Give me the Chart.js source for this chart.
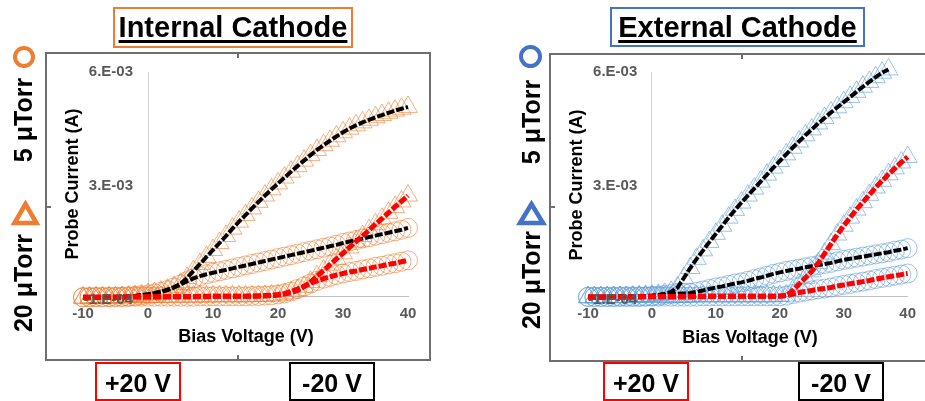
<!DOCTYPE html>
<html><head><meta charset="utf-8">
<script src="https://cdn.jsdelivr.net/npm/chart.js@4/dist/chart.umd.min.js"></script>
<style>
body{margin:0;background:#fff;}
#wrap{position:relative;width:925px;height:401px;overflow:hidden;font-family:"Liberation Sans",Arial,sans-serif;background:#fff;color:#000;}
.frame{position:absolute;border:2px solid #6e6e6e;box-sizing:border-box;}
.tk{position:absolute;background:#6e6e6e;}
.title{position:absolute;box-sizing:border-box;border:2px solid;font-weight:bold;font-size:29px;text-align:center;line-height:36px;text-decoration:underline;text-decoration-thickness:2.5px;text-underline-offset:3px;white-space:nowrap;}
.rot{position:absolute;font-weight:bold;white-space:nowrap;transform:translate(-50%,-50%) rotate(-90deg);}
.ctr{position:absolute;font-weight:bold;white-space:nowrap;transform:translate(-50%,-50%);}
.vbox{position:absolute;box-sizing:border-box;border:2px solid;font-weight:bold;font-size:25px;display:flex;align-items:center;justify-content:center;padding-top:3px;}
canvas{position:absolute;top:0;}
</style></head>
<body><div id="wrap">
<div class="frame" style="left:45px;top:52px;width:386px;height:309px;"></div>
<div class="tk" style="left:47px;top:206px;width:4px;height:2px;"></div>
<div class="tk" style="left:237px;top:54px;width:2px;height:4px;"></div>
<div class="tk" style="left:237px;top:355px;width:2px;height:4px;"></div>
<div class="frame" style="left:549px;top:53px;width:400px;height:309px;"></div>
<div class="tk" style="left:551px;top:206px;width:4px;height:2px;"></div>
<div class="tk" style="left:741px;top:55px;width:2px;height:4px;"></div>
<div class="tk" style="left:741px;top:356px;width:2px;height:4px;"></div>

<canvas id="cL" width="460" height="401" style="left:0;width:460px;height:401px;"></canvas>
<canvas id="cR" width="465" height="401" style="left:460px;width:465px;height:401px;"></canvas>

<div class="title" style="left:113px;top:7px;width:240px;height:41px;border-color:#ED7D31;">Internal Cathode</div>
<div class="title" style="left:610px;top:7px;width:255px;height:40px;border-color:#4472C4;">External Cathode</div>

<div class="rot" style="left:23px;top:120px;font-size:25px;">5 μTorr</div>
<div class="rot" style="left:23px;top:283px;font-size:25px;">20 μTorr</div>
<div class="rot" style="left:531px;top:122px;font-size:25px;">5 μTorr</div>
<div class="rot" style="left:531px;top:280px;font-size:25px;">20 μTorr</div>

<div style="position:absolute;left:13px;top:46px;width:22px;height:22px;box-sizing:border-box;border:4px solid #ED7D31;border-radius:50%;"></div>
<div style="position:absolute;left:519px;top:45px;width:23px;height:23px;box-sizing:border-box;border:4px solid #4472C4;border-radius:50%;"></div>
<svg style="position:absolute;left:0;top:190px;" width="50" height="45"><polygon points="25.5,14 14.5,33 36.5,33" fill="none" stroke="#ED7D31" stroke-width="4.5"/></svg>
<svg style="position:absolute;left:505px;top:190px;" width="50" height="45"><polygon points="26.5,14 15,33 38,33" fill="none" stroke="#4472C4" stroke-width="4.5"/></svg>

<div class="rot" style="left:72px;top:184px;font-size:18px;">Probe Current (A)</div>
<div class="rot" style="left:576px;top:185px;font-size:18px;">Probe Current (A)</div>
<div class="ctr" style="left:246px;top:336px;font-size:18px;">Bias Voltage (V)</div>
<div class="ctr" style="left:750px;top:337px;font-size:18px;">Bias Voltage (V)</div>

<div class="vbox" style="left:95px;top:362px;width:86px;height:39px;border-color:#FF0000;">+20 V</div>
<div class="vbox" style="left:289px;top:362px;width:86px;height:39px;border-color:#000;">-20 V</div>
<div class="vbox" style="left:603px;top:362px;width:86px;height:39px;border-color:#FF0000;">+20 V</div>
<div class="vbox" style="left:798px;top:362px;width:86px;height:39px;border-color:#000;">-20 V</div>
</div>
<script>
// Bias voltage (V)
const voltage = [-10,-9,-8,-7,-6,-5,-4,-3,-2,-1,0,1,2,3,4,5,6,7,8,9,10,11,12,13,14,15,16,17,18,19,20,21,22,23,24,25,26,27,28,29,30,31,32,33,34,35,36,37,38,39,40];
const xTicks = [-10,0,10,20,30,40];
const yTicks = [-1e-4, 3e-3, 6.1e-3];
const yTickLabels = ['-1.E-04','3.E-03','6.E-03'];

// Probe current in mA — Internal Cathode
const int20uT_neg20V = [-0.05,-0.05,-0.04,-0.04,-0.03,-0.03,-0.02,-0.01,0.01,0.03,0.06,0.09,0.13,0.18,0.25,0.34,0.5,0.69,0.88,1.07,1.26,1.45,1.64,1.84,2.03,2.21,2.39,2.57,2.74,2.91,3.07,3.23,3.39,3.54,3.69,3.84,3.98,4.11,4.23,4.35,4.46,4.56,4.65,4.73,4.8,4.87,4.93,4.99,5.05,5.1,5.15];
const int20uT_pos20V = [-0.03,-0.03,-0.03,-0.03,-0.03,-0.03,-0.03,-0.02,-0.02,-0.02,-0.02,-0.02,-0.02,-0.01,-0.01,-0.01,-0.01,-0.01,-0.01,-0.01,0,0,0,0,0,0,0,0.01,0.01,0.02,0.03,0.06,0.1,0.16,0.26,0.39,0.55,0.7,0.86,1.02,1.17,1.33,1.49,1.64,1.8,1.96,2.11,2.27,2.43,2.58,2.74];
const int5uT_neg20V = [-0.03,-0.03,-0.02,-0.02,-0.02,-0.01,-0.01,0,0.01,0.03,0.05,0.08,0.12,0.17,0.24,0.32,0.41,0.49,0.55,0.6,0.64,0.68,0.72,0.76,0.8,0.84,0.88,0.92,0.96,1.0,1.04,1.08,1.12,1.16,1.2,1.24,1.28,1.32,1.36,1.4,1.45,1.49,1.53,1.57,1.61,1.65,1.69,1.73,1.77,1.81,1.86];
const int5uT_pos20V = [-0.02,-0.02,-0.02,-0.02,-0.02,-0.02,-0.02,-0.02,-0.01,-0.01,-0.01,-0.01,-0.01,-0.01,-0.01,-0.01,-0.01,-0.01,0,0,0,0,0,0,0,0,0.01,0.01,0.02,0.03,0.05,0.08,0.13,0.2,0.27,0.35,0.42,0.48,0.53,0.58,0.62,0.66,0.69,0.73,0.76,0.8,0.83,0.87,0.9,0.94,0.98];

// Probe current in mA — External Cathode
const ext20uT_neg20V = [-0.03,-0.03,-0.03,-0.03,-0.02,-0.02,-0.02,-0.01,0,0.01,0.02,0.04,0.07,0.12,0.24,0.5,0.77,1.02,1.25,1.48,1.7,1.92,2.14,2.35,2.55,2.74,2.93,3.12,3.31,3.5,3.68,3.86,4.04,4.21,4.38,4.54,4.7,4.85,5.0,5.14,5.28,5.42,5.56,5.7,5.83,5.96,6.08,6.17];
const ext20uT_pos20V = [-0.02,-0.02,-0.02,-0.02,-0.02,-0.02,-0.02,-0.02,-0.01,-0.01,-0.01,-0.01,-0.01,-0.01,-0.01,-0.01,-0.01,0,0,0,0,0,0,0,0,0,0,0,0,0,0.01,0.02,0.15,0.33,0.5,0.68,0.9,1.16,1.42,1.68,1.92,2.14,2.36,2.56,2.76,2.96,3.14,3.32,3.48,3.64,3.79];
const ext5uT_neg20V = [-0.01,-0.01,-0.01,-0.01,-0.01,0,0,0,0,0,0.01,0.02,0.04,0.06,0.07,0.08,0.09,0.12,0.16,0.2,0.24,0.27,0.31,0.35,0.38,0.42,0.47,0.51,0.56,0.61,0.65,0.69,0.72,0.75,0.79,0.82,0.85,0.88,0.91,0.95,0.99,1.02,1.05,1.08,1.11,1.14,1.17,1.2,1.24,1.27,1.31];
const ext5uT_pos20V = [-0.02,-0.02,-0.02,-0.02,-0.02,-0.02,-0.02,-0.02,-0.02,-0.01,-0.01,-0.01,-0.01,-0.01,-0.01,-0.01,-0.01,-0.01,0,0,0,0,0,0,0,0,0,0,0,0,0,0.02,0.06,0.1,0.13,0.16,0.19,0.21,0.24,0.28,0.31,0.34,0.37,0.4,0.43,0.47,0.5,0.53,0.56,0.59,0.62];

const pts = arr => arr.map((mA, i) => ({x: voltage[i], y: mA * 1e-3}));

function markerSet(arr, style, color){
  return {data: pts(arr), showLine:false, pointStyle: style, pointRadius: style==='triangle'?11:9.5,
    pointBorderColor: color, pointBackgroundColor:'rgba(0,0,0,0)', pointBorderWidth:1, order:3, clip:false};
}
function lineSet(arr, color, width, ord){
  return {data: pts(arr), showLine:true, borderColor: color, borderWidth: width, borderDash:[8,2],
    borderCapStyle:'butt', pointRadius:0, order:ord, clip:false, tension:0};
}
const tickFont = {family:'"Liberation Sans", Arial, sans-serif', size:15, weight:'bold'};
function makeChart(id, series, mk, padLeft, padRight){
  return new Chart(document.getElementById(id), {
    type:'scatter',
    data:{datasets:[
      markerSet(series[0], 'triangle', mk), markerSet(series[1], 'triangle', mk),
      markerSet(series[2], 'circle', mk), markerSet(series[3], 'circle', mk),
      lineSet(series[0], '#000000', 4, 2), lineSet(series[2], '#000000', 4, 2),
      lineSet(series[1], '#FF0000', 5, 1), lineSet(series[3], '#FF0000', 5, 1)
    ]},
    options:{
      responsive:false, animation:false, devicePixelRatio:1,
      layout:{padding:{left:padLeft, right:padRight, top:72, bottom:101}},
      plugins:{legend:{display:false}, tooltip:{enabled:false}},
      scales:{
        x:{type:'linear', min:-10, max:40, position:{y:0},
          afterBuildTicks: s => { s.ticks = xTicks.map(v => ({value:v})); },
          ticks:{color:'#595959', font:tickFont, padding:9, maxRotation:0, autoSkip:false},
          grid:{drawTicks:false, lineWidth:1, color: c => (c.tick && c.tick.value===0) ? '#d0d0d0' : 'rgba(0,0,0,0)'},
          border:{display:true, color:'#c0c0c0', width:1}},
        y:{type:'linear', min:yTicks[0], max:yTicks[2], position:{x:-2.3},
          afterBuildTicks: s => { s.ticks = yTicks.map(v => ({value:v})); },
          ticks:{color:'#595959', font:tickFont, padding:0, autoSkip:false, z:1, callback:(v,i) => yTickLabels[i]},
          grid:{display:false}, border:{display:false}}
      }
    }
  });
}
makeChart('cL', [int20uT_neg20V, int20uT_pos20V, int5uT_neg20V, int5uT_pos20V], 'rgba(237,125,49,0.6)', 83, 52);
makeChart('cR', [ext20uT_neg20V, ext20uT_pos20V, ext5uT_neg20V, ext5uT_pos20V], 'rgba(91,155,213,0.6)', 128, 12);
</script>
</body></html>
